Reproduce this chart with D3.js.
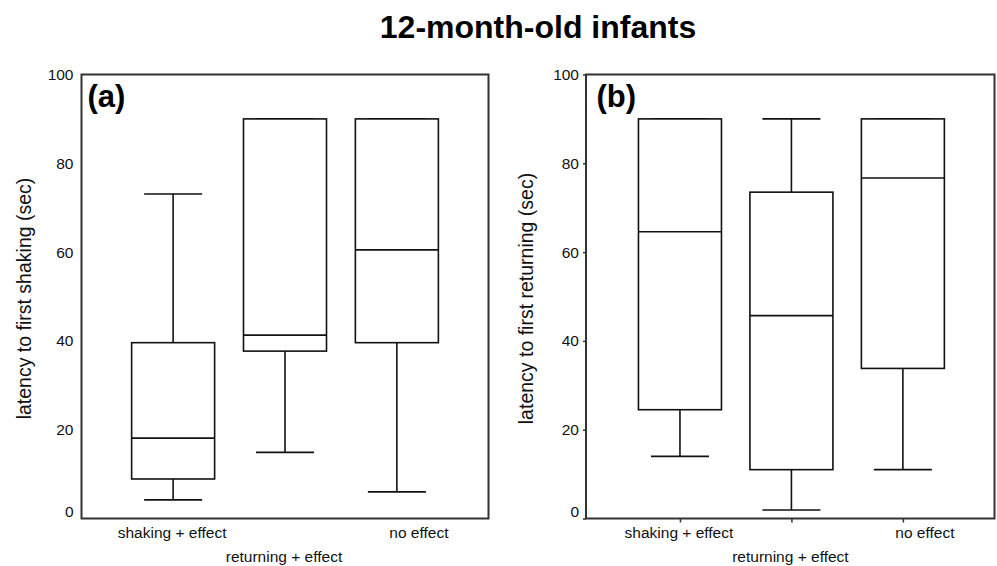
<!DOCTYPE html>
<html>
<head>
<meta charset="utf-8">
<script src="https://cdn.jsdelivr.net/npm/d3@7/dist/d3.min.js"></script>
<style>
  html, body { margin: 0; padding: 0; background: #fff; }
  svg { display: block; font-family: "Liberation Sans", Arial, sans-serif; }
</style>
</head>
<body>
<svg id="chart" width="997" height="566"></svg>
<script>
// ---- data ----
const categories = ["shaking + effect", "returning + effect", "no effect"];
const yTicks = [0, 20, 40, 60, 80, 100];

// Panel (a): latency to first shaking (sec)
const aLow    = [4.2, 14.9, 6.0];
const aQ1     = [8.9, 37.7, 39.6];
const aMedian = [18.1, 41.3, 60.5];
const aQ3     = [39.6, 90, 90];
const aHigh   = [73.1, 90, 90];

// Panel (b): latency to first returning (sec)
const bLow    = [14.0, 1.9, 11.0];
const bQ1     = [24.5, 11.0, 33.8];
const bMedian = [64.6, 45.7, 76.7];
const bQ3     = [90, 73.5, 90];
const bHigh   = [90, 90, 90];

const title = "12-month-old infants";

// ---- drawing ----
const svg = d3.select("#chart");

svg.append("text")
  .attr("x", 538).attr("y", 38)
  .attr("text-anchor", "middle")
  .attr("font-size", 32).attr("font-weight", "bold")
  .attr("fill", "#000")
  .text(title);

function panel(opts) {
  const { left, right, top, bottom, xDomain, low, q1, med, q3, high, label, yTitle, ticks, yTitleX } = opts;
  const g = svg.append("g");
  const x = d3.scaleLinear().domain(xDomain).range([left, right]);
  const y = d3.scaleLinear().domain([0, 100]).range([bottom, top]);
  const boxW = 83, capW = 58;

  // frame
  g.append("rect")
    .attr("x", left).attr("y", top)
    .attr("width", right - left).attr("height", bottom - top)
    .attr("fill", "none").attr("stroke", "#333").attr("stroke-width", 2);

  // y axis labels (and optional ticks)
  const yAxis = d3.axisLeft(y).tickValues(yTicks)
    .tickSize(ticks ? 3 : 0).tickPadding(ticks ? 4 : 8);
  const ya = g.append("g").attr("transform", `translate(${left},0)`).call(yAxis);
  ya.select(".domain").remove();
  ya.selectAll(".tick line").attr("stroke", "#333").attr("stroke-width", 1.5);
  ya.selectAll(".tick text")
    .attr("font-size", 15.5).attr("fill", "#111")
    .attr("font-family", "Liberation Sans, Arial, sans-serif")
    .attr("dy", d => d === 0 ? "-0.15em" : "0.32em");

  // x axis ticks (panel b only)
  const idx = categories.map((c, i) => i + 1);
  if (ticks) {
    const xAxis = d3.axisBottom(x).tickValues(idx).tickSize(4).tickFormat("");
    const xa = g.append("g").attr("transform", `translate(0,${bottom})`).call(xAxis);
    xa.select(".domain").remove();
    xa.selectAll(".tick line").attr("stroke", "#333").attr("stroke-width", 1.5);
  }

  // x category labels
  g.selectAll("text.cat").data(categories).enter().append("text")
    .attr("class", "cat")
    .attr("x", (d, i) => x(i + 1) + (i === 2 ? 22 : -1))
    .attr("y", (d, i) => i === 1 ? 562 : 537.5)
    .attr("text-anchor", "middle")
    .attr("font-size", 15.5).attr("fill", "#111")
    .text(d => d);

  // boxes
  const stroke = "#111", sw = 1.6;
  idx.forEach((p, i) => {
    const cx = x(p);
    // whiskers
    g.append("line").attr("x1", cx).attr("x2", cx)
      .attr("y1", y(q3[i])).attr("y2", y(high[i]))
      .attr("stroke", stroke).attr("stroke-width", sw);
    g.append("line").attr("x1", cx).attr("x2", cx)
      .attr("y1", y(q1[i])).attr("y2", y(low[i]))
      .attr("stroke", stroke).attr("stroke-width", sw);
    // caps
    [low[i], high[i]].forEach(v => {
      g.append("line").attr("x1", cx - capW / 2).attr("x2", cx + capW / 2)
        .attr("y1", y(v)).attr("y2", y(v))
        .attr("stroke", stroke).attr("stroke-width", sw);
    });
    // box
    g.append("rect")
      .attr("x", cx - boxW / 2).attr("y", y(q3[i]))
      .attr("width", boxW).attr("height", y(q1[i]) - y(q3[i]))
      .attr("fill", "#fff").attr("stroke", stroke).attr("stroke-width", sw);
    // median
    g.append("line").attr("x1", cx - boxW / 2).attr("x2", cx + boxW / 2)
      .attr("y1", y(med[i])).attr("y2", y(med[i]))
      .attr("stroke", stroke).attr("stroke-width", sw);
  });

  // panel label
  g.append("text")
    .attr("x", left + opts.labelDx).attr("y", 107)
    .attr("font-size", 31).attr("font-weight", "bold").attr("fill", "#000")
    .text(label);

  // y title
  g.append("text")
    .attr("transform", `translate(${yTitleX},${(top + bottom) / 2 + 2}) rotate(-90)`)
    .attr("text-anchor", "middle")
    .attr("font-size", 19.5).attr("fill", "#111")
    .text(yTitle);
}

panel({
  left: 81.5, right: 488.5, top: 74.5, bottom: 518.5,
  xDomain: [0.181, 3.819],
  low: aLow, q1: aQ1, med: aMedian, q3: aQ3, high: aHigh,
  label: "(a)", labelDx: 6, yTitle: "latency to first shaking (sec)",
  ticks: false, yTitleX: 31
});

panel({
  left: 586, right: 994.5, top: 74.5, bottom: 518.5,
  xDomain: [0.157, 3.822],
  low: bLow, q1: bQ1, med: bMedian, q3: bQ3, high: bHigh,
  label: "(b)", labelDx: 10.5, yTitle: "latency to first returning (sec)",
  ticks: true, yTitleX: 533
});
</script>
</body>
</html>
